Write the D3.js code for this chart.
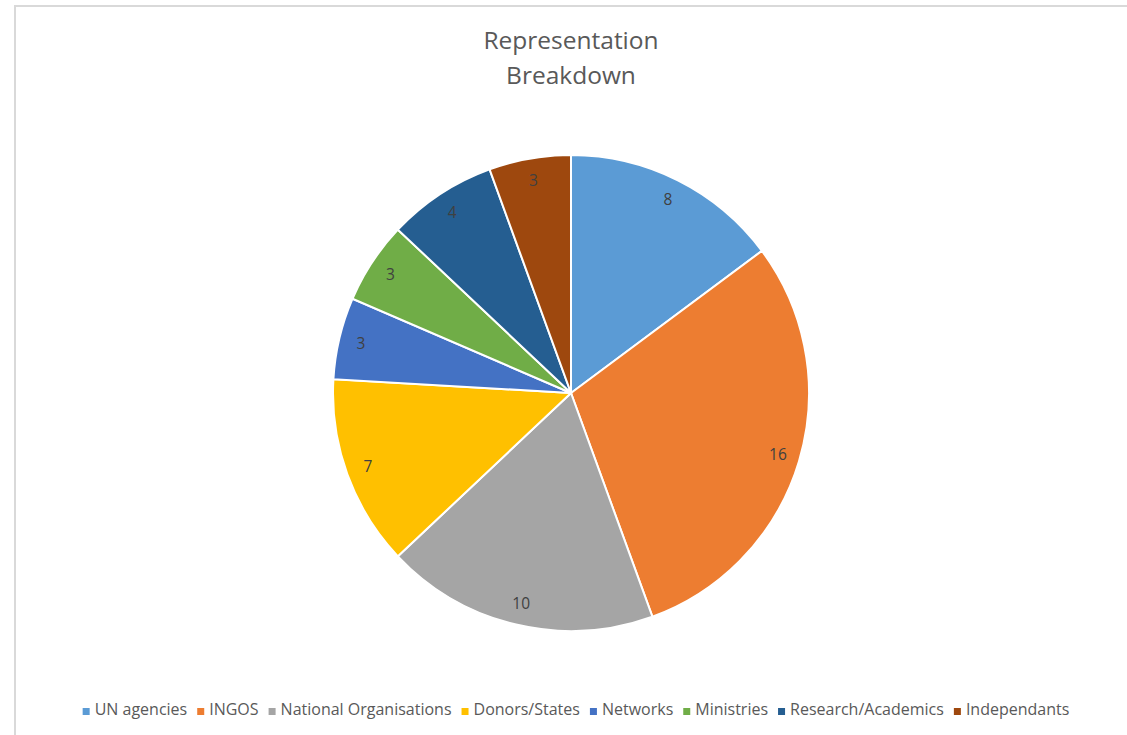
<!DOCTYPE html>
<html lang="en">
<head>
	<meta charset="UTF-8">
	<title>Representation Breakdown</title>
	<script src="https://d3js.org/d3.v7.min.js"></script>
	<style>
		body { margin: 0; background: #fff; }
		svg { display: block; }
	</style>
</head>
<body>
	<svg width="1127" height="735"></svg>
	<script>
		// data
		const categories = ["UN agencies", "INGOS", "National Organisations", "Donors/States", "Networks", "Ministries", "Research/Academics", "Independants"];
		const values = [8, 16, 10, 7, 3, 3, 4, 3];
		const colors = ["#5B9BD5", "#ED7D31", "#A5A5A5", "#FFC000", "#4472C4", "#70AD47", "#255E91", "#9E480E"];
		const titleLines = ["Representation", "Breakdown"];

		const data = categories.map((c, i) => ({ name: c, value: values[i], color: colors[i] }));

		const svg = d3.select("svg"),
			width = +svg.attr("width"),
			height = +svg.attr("height");

		const font = "'Open Sans', 'Liberation Sans', sans-serif";

		// chart frame
		svg.append("path")
			.attr("d", "M15," + height + " V6 H" + width)
			.attr("fill", "none")
			.attr("stroke", "#d9d9d9")
			.attr("stroke-width", 2);

		// title
		svg.append("g").selectAll("text")
			.data(titleLines)
			.enter().append("text")
			.attr("x", 571)
			.attr("y", (d, i) => 49 + i * 35)
			.attr("text-anchor", "middle")
			.attr("fill", "#595959")
			.style("font-family", font)
			.style("font-size", "24.5px")
			.text(d => d);

		// pie
		const cx = 571, cy = 393, radius = 238;
		const g = svg.append("g").attr("transform", "translate(" + cx + "," + cy + ")");

		const pie = d3.pie().sort(null).value(d => d.value);
		const arc = d3.arc().innerRadius(0).outerRadius(radius);
		const label = d3.arc().innerRadius(216).outerRadius(216);

		const arcs = g.selectAll(".arc")
			.data(pie(data))
			.enter().append("g")
			.attr("class", "arc");

		arcs.append("path")
			.attr("d", arc)
			.attr("fill", d => d.data.color)
			.attr("stroke", "#fff")
			.attr("stroke-width", 2);

		arcs.append("text")
			.attr("transform", d => "translate(" + label.centroid(d) + ")")
			.attr("text-anchor", "middle")
			.attr("dy", "0.35em")
			.attr("fill", "#404040")
			.style("font-family", font)
			.style("font-size", "15.5px")
			.text(d => d.data.value);

		// legend
		const legend = svg.append("g");
		const items = legend.selectAll("g")
			.data(data)
			.enter().append("g");

		items.append("rect")
			.attr("width", 7)
			.attr("height", 7)
			.attr("y", -7)
			.attr("fill", d => d.color);

		items.append("text")
			.attr("x", 12)
			.attr("fill", "#595959")
			.style("font-family", font)
			.style("font-size", "16px")
			.text(d => d.name);

		let x = 0;
		const gap = 10;
		items.each(function() {
			const w = this.querySelector("text").getComputedTextLength() + 12;
			d3.select(this).attr("transform", "translate(" + x + ",0)");
			x += w + gap;
		});
		const total = x - gap;
		legend.attr("transform", "translate(" + (576 - total / 2) + ",715)");
	</script>
</body>
</html>
